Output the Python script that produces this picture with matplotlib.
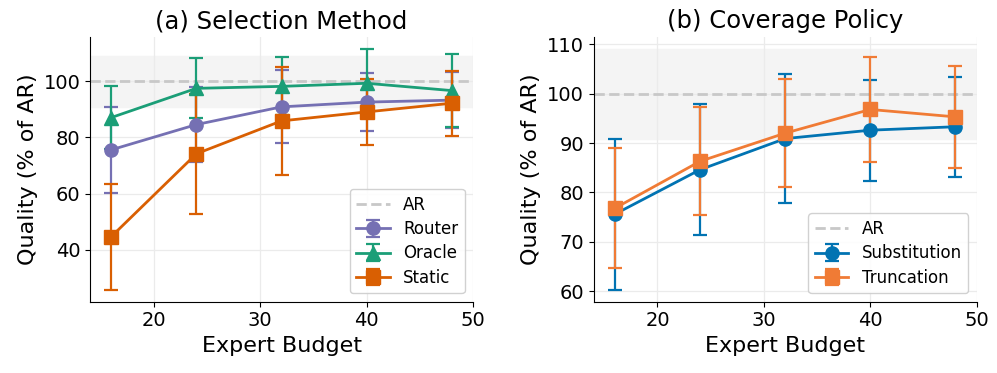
import numpy as np
import matplotlib
matplotlib.use("Agg")
import matplotlib.pyplot as plt

# Datos: presupuesto de expertos
budget = [16, 24, 32, 40, 48]

# (a) Método de selección
router = [75.6, 84.6, 90.9, 92.6, 93.3]
router_err = [15.3, 13.3, 13.0, 10.2, 10.1]
oracle = [87.1, 97.5, 98.2, 99.3, 96.7]
oracle_err = [11.3, 10.7, 10.3, 12.3, 13.0]
static = [44.7, 74.2, 85.9, 89.1, 92.2]
static_err = [18.9, 21.4, 19.1, 11.7, 11.6]

# (b) Política de cobertura
substitution = [75.6, 84.6, 90.9, 92.6, 93.3]
substitution_err = [15.3, 13.3, 13.0, 10.2, 10.1]
truncation = [76.8, 86.3, 92.0, 96.8, 95.3]
truncation_err = [12.2, 10.9, 10.9, 10.6, 10.4]

plt.rcParams['font.family'] = 'DejaVu Sans'

fig, (ax1, ax2) = plt.subplots(1, 2, figsize=(9.97, 3.73), dpi=100)
fig.subplots_adjust(left=0.0903, right=0.9796, bottom=0.1912, top=0.9016, wspace=0.315)

def estilo(ax, titulo):
    ax.axhspan(90.9, 109.1, color='#f4f4f4', zorder=0)
    ax.axhline(100, color='#c8c8c8', linestyle='--', linewidth=2, label='AR', zorder=1)
    ax.set_xlim(14, 50)
    ax.set_xticks([20, 30, 40, 50])
    ax.grid(True, color='#ebebeb', linewidth=0.9)
    ax.set_axisbelow(True)
    ax.spines['top'].set_visible(False)
    ax.spines['right'].set_visible(False)
    ax.tick_params(labelsize=14)
    ax.set_xlabel('Expert Budget', fontsize=16)
    ax.set_ylabel('Quality (% of AR)', fontsize=16)
    ax.set_title(titulo, fontsize=17.5)

def serie(ax, y, err, color, marker, label):
    ax.errorbar(budget, y, yerr=err, color=color, marker=marker, markersize=9.5,
                linewidth=2, elinewidth=1.6, capsize=5, capthick=1.6, label=label, zorder=3)

estilo(ax1, '(a) Selection Method')
serie(ax1, router, router_err, '#7570b3', 'o', 'Router')
serie(ax1, oracle, oracle_err, '#1b9e77', '^', 'Oracle')
serie(ax1, static, static_err, '#d95f02', 's', 'Static')
ax1.set_yticks([40, 60, 80, 100])
ax1.legend(loc='lower right', fontsize=12, framealpha=0.9, labelspacing=0.38)

estilo(ax2, '(b) Coverage Policy')
serie(ax2, substitution, substitution_err, '#0173b2', 'o', 'Substitution')
serie(ax2, truncation, truncation_err, '#f07b35', 's', 'Truncation')
ax2.set_yticks([60, 70, 80, 90, 100, 110])
ax2.legend(loc='lower right', fontsize=12, framealpha=0.9, labelspacing=0.38)

fig.savefig('out.png', dpi=100)
